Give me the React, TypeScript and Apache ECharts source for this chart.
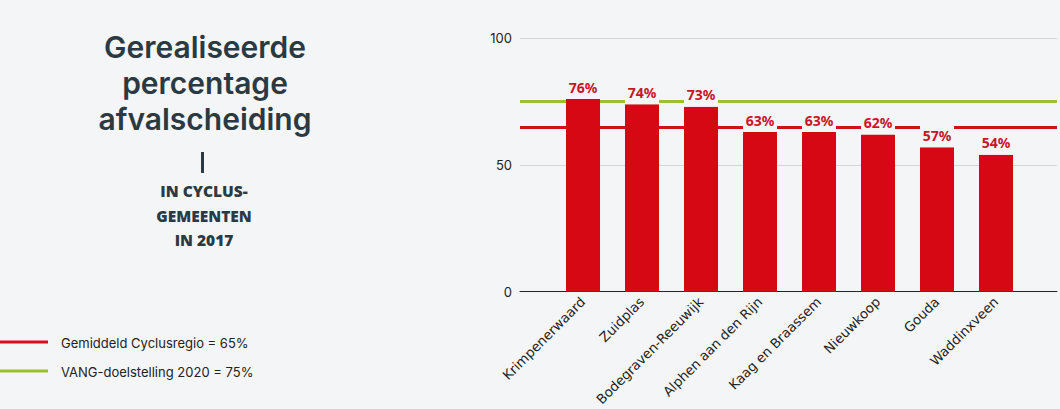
import React, { useEffect, useRef } from "react";
import * as echarts from "echarts";

const categories = [
  "Krimpenerwaard",
  "Zuidplas",
  "Bodegraven-Reeuwijk",
  "Alphen aan den Rijn",
  "Kaag en Braassem",
  "Nieuwkoop",
  "Gouda",
  "Waddinxveen",
];
const percentages = [76, 74, 73, 63, 63, 62, 57, 54];
const averageCyclus = 65;
const vangTarget = 75;
const yTicks = { min: 0, max: 100, interval: 50 };
const titleLines = ["Gerealiseerde", "percentage", "afvalscheiding"];
const subtitleLines = ["IN CYCLUS-", "GEMEENTEN", "IN 2017"];
const legendItems = [
  { label: "Gemiddeld Cyclusregio = 65%", color: "#d30f1c" },
  { label: "VANG-doelstelling 2020 = 75%", color: "#9dbf2c" },
];

const BG = "#f4f5f7";
const RED = "#d30f1c";
const GREEN = "#9dbf2c";
const DARK = "#2b3a42";

export default function App() {
  const ref = useRef<HTMLDivElement>(null);

  useEffect(() => {
    if (!ref.current) return;
    const chart = echarts.init(ref.current, undefined, { renderer: "svg" });

    const graphics: any[] = [];
    titleLines.forEach((t, i) => {
      graphics.push({
        type: "text",
        x: 205,
        y: 47 + i * 36,
        style: {
          text: t,
          textAlign: "center",
          textVerticalAlign: "middle",
          font: "600 30px Inter, Roboto, sans-serif",
          lineHeight: 30,
          fill: DARK,
        },
      });
    });
    graphics.push({
      type: "rect",
      shape: { x: 201, y: 152, width: 3, height: 21 },
      style: { fill: DARK },
    });
    subtitleLines.forEach((t, i) => {
      graphics.push({
        type: "text",
        x: 204,
        y: 191 + i * 24.5,
        style: {
          text: t,
          textAlign: "center",
          textVerticalAlign: "middle",
          font: "800 15.5px 'Open Sans', 'Noto Sans', sans-serif",
          lineHeight: 18,
          fill: DARK,
        },
      });
    });
    legendItems.forEach((it, i) => {
      const y = 342 + i * 29;
      graphics.push({
        type: "line",
        shape: { x1: 0, y1: y, x2: 48, y2: y },
        style: { stroke: it.color, lineWidth: 3 },
      });
      graphics.push({
        type: "text",
        x: 61,
        y: y + 1,
        style: {
          text: it.label,
          textVerticalAlign: "middle",
          font: "13px Inter, 'Noto Sans', sans-serif",
          fill: "#222",
        },
      });
    });

    chart.setOption({
      animation: false,
      backgroundColor: BG,
      grid: [
        { left: 520, right: 3, top: 38.3, bottom: 117.3 },
        { left: 553.5, width: 472, top: 38.3, bottom: 117.3 },
      ],
      xAxis: [
        {
          gridIndex: 0,
          type: "value",
          min: 0,
          max: 1,
          axisLine: { show: true, onZero: false, lineStyle: { color: "#222", width: 1 } },
          axisTick: { show: false },
          axisLabel: { show: false },
          splitLine: { show: false },
        },
        {
          gridIndex: 1,
          type: "category",
          data: categories,
          axisLine: { show: false },
          axisTick: { show: false },
          axisLabel: {
            interval: 0,
            rotate: 45,
            margin: 8,
            fontSize: 13.3,
            color: "#222",
            fontFamily: "'DejaVu Sans', Verdana, sans-serif",
          },
        },
      ],
      yAxis: [
        {
          gridIndex: 0,
          type: "value",
          min: yTicks.min,
          max: yTicks.max,
          interval: yTicks.interval,
          axisLine: { show: false },
          axisTick: { show: false },
          axisLabel: {
            margin: 8,
            fontSize: 13,
            color: "#222",
            fontFamily: "Inter, 'Noto Sans', sans-serif",
          },
          splitLine: { show: true, lineStyle: { color: "#d3d6da", width: 1 } },
        },
        {
          gridIndex: 1,
          type: "value",
          min: yTicks.min,
          max: yTicks.max,
          show: false,
          splitLine: { show: false },
        },
      ],
      series: [
        {
          type: "line",
          xAxisIndex: 0,
          yAxisIndex: 0,
          data: [
            [0, 0],
            [1, 0],
          ],
          symbol: "none",
          lineStyle: { opacity: 0 },
          silent: true,
          z: 1,
          markLine: {
            silent: true,
            z: 1,
            symbol: ["none", "none"],
            label: { show: false },
            data: [
              { yAxis: averageCyclus, lineStyle: { color: RED, width: 3, type: "solid" } },
              { yAxis: vangTarget, lineStyle: { color: GREEN, width: 3, type: "solid" } },
            ],
          },
        },
        {
          type: "bar",
          xAxisIndex: 1,
          yAxisIndex: 1,
          data: percentages,
          barWidth: 34,
          z: 10,
          itemStyle: { color: "#d50814" },
          label: {
            show: true,
            position: "top",
            distance: 0,
            formatter: "{c}%",
            color: "#cc1426",
            fontWeight: "bold",
            fontSize: 14,
            lineHeight: 16,
            fontFamily: "'Noto Sans', Inter, sans-serif",
            backgroundColor: BG,
            width: 34,
            align: "center",
            padding: [5, 0, 4, 0],
          },
        },
      ],
      graphic: graphics,
    });

    return () => chart.dispose();
  }, []);

  return (
    <div
      style={{ position: "fixed", left: 0, top: 0, width: 1060, height: 409, background: BG }}
    >
      <div ref={ref} style={{ width: 1060, height: 409 }} />
    </div>
  );
}
